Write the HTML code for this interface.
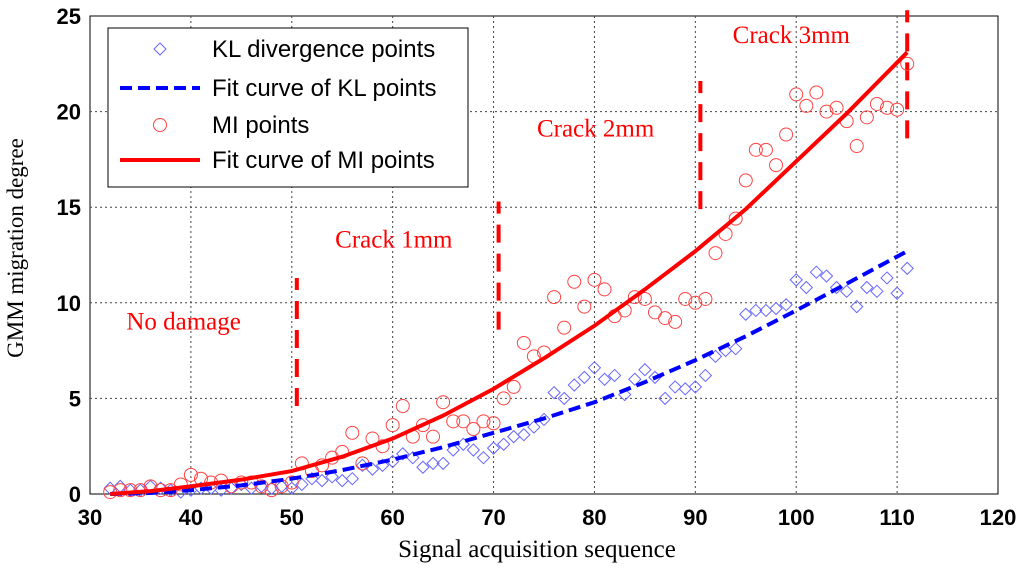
<!DOCTYPE html>
<html><head><meta charset="utf-8"><style>
body{margin:0;background:#fff}
svg{display:block}
.t{font-family:"Liberation Sans",sans-serif;font-size:22px;font-weight:bold}
.lg{font-family:"Liberation Sans",sans-serif;font-size:24px}
.s{font-family:"Liberation Serif",serif;font-size:25px}
</style></head><body>
<svg id="c" width="1024" height="573"></svg>
<script>
const xTicks=[30,40,50,60,70,80,90,100,110,120];
const yTicks=[0,5,10,15,20,25];
const xs=[];for(let i=32;i<=111;i++)xs.push(i);
const klPoints=[0.3,0.4,0.2,0.2,0.4,0.3,0.2,0.1,0.2,0.3,0.3,0.2,0.3,0.5,0.3,0.4,0.3,0.4,0.3,0.5,0.8,0.7,0.9,0.7,0.8,1.5,1.3,1.5,1.7,2.1,1.9,1.4,1.6,1.6,2.3,2.6,2.3,1.9,2.4,2.6,3.0,3.1,3.5,3.9,5.3,5.0,5.7,6.1,6.6,6.0,6.2,5.2,6.0,6.5,6.1,5.0,5.6,5.5,5.6,6.2,7.2,7.5,7.6,9.4,9.6,9.6,9.7,9.9,11.2,10.8,11.6,11.4,10.8,10.6,9.8,10.8,10.6,11.3,10.5,11.8];
const miPoints=[0.1,0.2,0.2,0.2,0.4,0.2,0.2,0.5,1.0,0.8,0.6,0.7,0.4,0.6,0.6,0.4,0.2,0.4,0.6,1.6,1.2,1.5,1.9,2.2,3.2,1.6,2.9,2.5,3.6,4.6,3.0,3.6,3.0,4.8,3.8,3.8,3.4,3.8,3.7,5.0,5.6,7.9,7.2,7.4,10.3,8.7,11.1,9.8,11.2,10.7,9.3,9.6,10.3,10.2,9.5,9.2,9.0,10.2,10.0,10.2,12.6,13.6,14.4,16.4,18.0,18.0,17.2,18.8,20.9,20.3,21.0,20.0,20.2,19.5,18.2,19.7,20.4,20.2,20.1,22.5];
const fitX=[32,36,40,45,50,55,60,65,70,75,80,85,90,95,100,105,111];
const klFit=[0,0.05,0.2,0.45,0.8,1.25,1.8,2.45,3.2,3.95,4.8,5.85,7.0,8.25,9.6,11.0,12.7];
const miFit=[0,0.15,0.4,0.75,1.2,1.95,2.9,4.1,5.5,7.1,8.8,10.7,12.7,14.9,17.4,19.9,23.1];
const cracks=[{x:50.5,y0:4.6,y1:11.3},{x:70.5,y0:8.6,y1:15.3},{x:90.5,y0:14.9,y1:21.6},{x:111,y0:18.6,y1:25.3}];
const crackLabels=[{t:"No damage",x:33.6,y:8.6},{t:"Crack 1mm",x:54.3,y:12.9},{t:"Crack 2mm",x:74.3,y:18.7},{t:"Crack 3mm",x:93.7,y:23.6}];
const L=90,R=998,T=16,B=494;
const X=v=>L+(v-30)/90*(R-L), Y=v=>B-v/25*(B-T);
const svg=document.getElementById('c');const NS='http://www.w3.org/2000/svg';
function mk(tag,a,p){const e=document.createElementNS(NS,tag);for(const k in a)e.setAttribute(k,a[k]);(p||svg).appendChild(e);return e;}
let e;
e=mk('rect',{x:L,y:T,width:R-L,height:B-T,fill:'#fff',stroke:'#000','stroke-width':1});

xTicks.forEach(v=>{
 if(v>30&&v<120){e=mk('line',{x1:X(v),x2:X(v),y1:T,y2:B,stroke:'#444','stroke-dasharray':'2,3'});
 }
 e=mk('text',{x:X(v),y:B+31,'text-anchor':'middle',class:'t'});e.textContent=v;
 
});
yTicks.forEach(v=>{
 if(v>0&&v<25){e=mk('line',{x1:L,x2:R,y1:Y(v),y2:Y(v),stroke:'#444','stroke-dasharray':'2,3'});
 }
 e=mk('text',{x:L-9,y:Y(v)+8,'text-anchor':'end',class:'t'});e.textContent=v;
 
});
cracks.forEach(c=>{e=mk('line',{x1:X(c.x),x2:X(c.x),y1:Y(c.y0),y2:Y(c.y1),stroke:'#f00','stroke-width':4,'stroke-dasharray':'18,11'});
 });
crackLabels.forEach(c=>{e=mk('text',{x:X(c.x),y:Y(c.y),fill:'#f00',class:'s'});e.textContent=c.t;
 });
xs.forEach((x,i)=>{const cx=X(x),cy=Y(klPoints[i]);
 e=mk('polygon',{points:`${cx},${cy-6} ${cx+6},${cy} ${cx},${cy+6} ${cx-6},${cy}`,fill:'none',stroke:'#6666ff','stroke-width':1});
 });
xs.forEach((x,i)=>{e=mk('circle',{cx:X(x),cy:Y(miPoints[i]),r:6.5,fill:'none',stroke:'#ff4444','stroke-width':1});
 });
e=mk('polyline',{points:fitX.map((x,i)=>X(x)+','+Y(klFit[i])).join(' '),fill:'none',stroke:'#00f','stroke-width':4,'stroke-dasharray':'12,6'});

e=mk('polyline',{points:fitX.map((x,i)=>X(x)+','+Y(miFit[i])).join(' '),fill:'none',stroke:'#f00','stroke-width':4});

const lg=mk('g',{});
mk('rect',{x:108,y:28,width:360,height:159,fill:'#fff',stroke:'#000'},lg);
const ent=["KL divergence points","Fit curve of KL points","MI points","Fit curve of MI points"];
const ey=[49,88,125,160];
ent.forEach((t,i)=>{const y=ey[i];
 if(i==0)mk('polygon',{points:`160,${y-6} 166,${y} 160,${y+6} 154,${y}`,fill:'none',stroke:'#6666ff'},lg);
 if(i==1)mk('line',{x1:120,x2:200,y1:y,y2:y,stroke:'#00f','stroke-width':4,'stroke-dasharray':'12,6'},lg);
 if(i==2)mk('circle',{cx:160,cy:y,r:6.5,fill:'none',stroke:'#ff4444'},lg);
 if(i==3)mk('line',{x1:120,x2:200,y1:y,y2:y,stroke:'#f00','stroke-width':4},lg);
 e=mk('text',{x:212,y:y+8,class:'lg'},lg);e.textContent=t;
 });
e=mk('text',{x:537,y:557,'text-anchor':'middle',class:'s'});e.textContent='Signal acquisition sequence';

e=mk('text',{x:0,y:0,'text-anchor':'middle',class:'s','font-size':'23',style:'font-size:23px',transform:'translate(23,248) rotate(-90)'});e.textContent='GMM migration degree';

</script>
</body></html>
